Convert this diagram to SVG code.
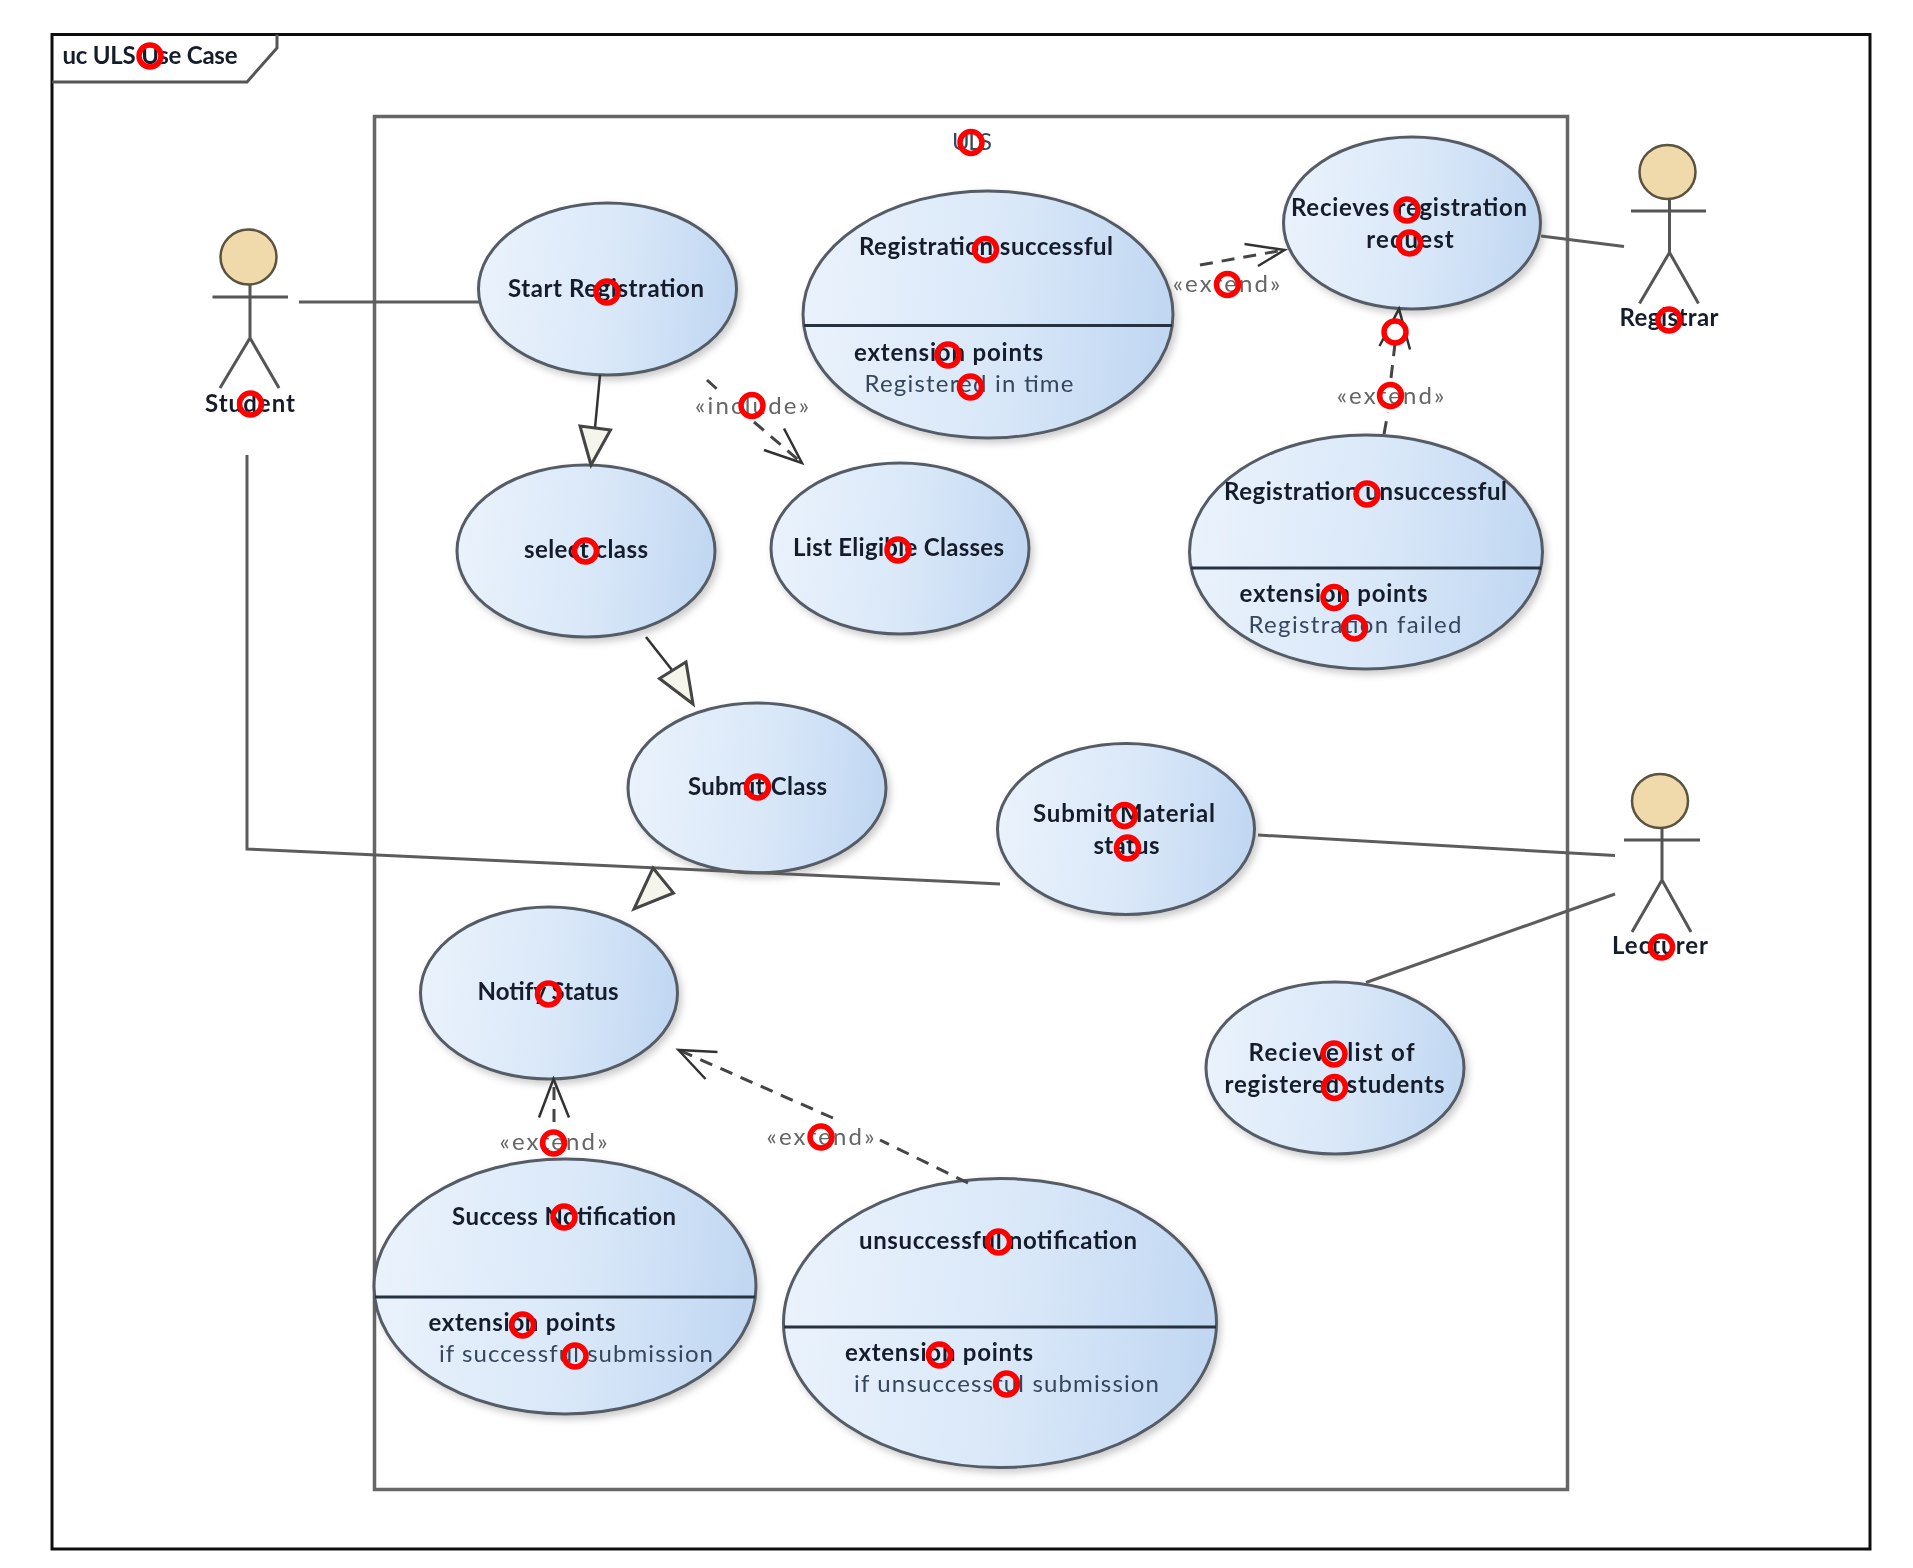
<svg xmlns="http://www.w3.org/2000/svg" width="1913" height="1568" viewBox="0 0 1913 1568">
<defs>
<linearGradient id="uc" x1="0" y1="0" x2="1" y2="0.08"><stop offset="0" stop-color="#ebf3fc"/><stop offset="0.6" stop-color="#d8e7f8"/><stop offset="1" stop-color="#c2d8f2"/></linearGradient>
<filter id="sh" x="-10%" y="-10%" width="125%" height="125%"><feDropShadow dx="3" dy="4" stdDeviation="3.500" flood-color="#000" flood-opacity="0.2"/></filter>
<filter id="soft" x="0" y="0" width="100%" height="100%" filterUnits="userSpaceOnUse"><feGaussianBlur stdDeviation="0.600"/></filter>
</defs>
<style>
text{font-family:Lato,"Liberation Sans",sans-serif;font-size:24px;text-anchor:middle;fill:#141c2b;font-weight:700}
.r{font-weight:400;fill:#36465c}
.s{font-weight:400;fill:#666}
.uc{fill:url(#uc);stroke:#555c66;stroke-width:3;filter:url(#sh)}
.div{stroke:#263040;stroke-width:3;fill:none}
.a{stroke:#555;stroke-width:3;fill:none}
.head{fill:#f0d9ab;stroke:#5a5340;stroke-width:2.500}
.c{stroke:#5c5c5c;stroke-width:3;fill:none}
.d{stroke:#444;stroke-width:3;fill:none;stroke-dasharray:13 9}
.o{stroke:#333;stroke-width:2.500;fill:none}
.t{fill:#f5f5ec;stroke:#444;stroke-width:3}
.m{fill:none;stroke:#f00;stroke-width:5.500}
</style>
<rect width="1913" height="1568" fill="#fff"/>
<g filter="url(#soft)">
<g id="frame">
<rect x="52" y="34.500" width="1818" height="1514.500" fill="#fff" stroke="#111" stroke-width="3"/>
<path d="M52 82H247L277 48V34.500" fill="none" stroke="#555" stroke-width="3"/>
<text x="150" y="64" textLength="175">uc ULS Use Case</text>
</g>
<g id="system">
<rect x="374.500" y="116.500" width="1193" height="1373" fill="#fff" stroke="#666" stroke-width="3.500"/>
<text class="r" x="972" y="150" textLength="40">ULS</text>
</g>
<g id="start-registration"><ellipse class="uc" cx="607.500" cy="289" rx="129" ry="86"/><text x="606" y="297" textLength="196">Start Registration</text></g>
<g id="select-class"><ellipse class="uc" cx="586" cy="551" rx="129" ry="86"/><text x="586" y="558" textLength="124">select class</text></g>
<g id="list-eligible"><ellipse class="uc" cx="900" cy="548.500" rx="129" ry="85.500"/><text x="898.500" y="556" textLength="211">List Eligible Classes</text></g>
<g id="submit-class"><ellipse class="uc" cx="757" cy="788" rx="129" ry="85"/><text x="757.500" y="795" textLength="139">Submit Class</text></g>
<g id="registration-successful"><ellipse class="uc" cx="988" cy="314.500" rx="185" ry="123.500"/><path class="div" d="M804 325.500H1172"/><text x="986" y="255" textLength="254">Registration successful</text><text x="948.500" y="361" textLength="189">extension points</text><text class="r" x="969" y="392" textLength="209">Registered in time</text></g>
<g id="recieves-registration"><ellipse class="uc" cx="1412" cy="223" rx="128.500" ry="86"/><text x="1409" y="216" textLength="236">Recieves registration</text><text x="1410" y="248" textLength="87.500">request</text></g>
<g id="registration-unsuccessful"><ellipse class="uc" cx="1366" cy="552" rx="176.500" ry="117"/><path class="div" d="M1191 568H1541"/><text x="1365.500" y="500" textLength="283">Registration unsuccessful</text><text x="1333.500" y="602" textLength="188">extension points</text><text class="r" x="1355" y="633" textLength="213">Registration failed</text></g>
<g id="submit-material"><ellipse class="uc" cx="1126" cy="829" rx="128.500" ry="85.500"/><text x="1124" y="822" textLength="182">Submit Material</text><text x="1126.500" y="854" textLength="66">status</text></g>
<g id="notify-status"><ellipse class="uc" cx="549" cy="993" rx="128.500" ry="86"/><text x="548" y="1000" textLength="141">Notify Status</text></g>
<g id="recieve-list"><ellipse class="uc" cx="1335" cy="1068" rx="129" ry="86"/><text x="1331.500" y="1061" textLength="166">Recieve list of</text><text x="1334.500" y="1093" textLength="220">registered students</text></g>
<g id="success-notification"><ellipse class="uc" cx="565" cy="1286.500" rx="191" ry="127.500"/><path class="div" d="M375 1297H755"/><text x="564" y="1225" textLength="224">Success Notification</text><text x="522" y="1331" textLength="187">extension points</text><text class="r" x="576" y="1362" textLength="274">if successful submission</text></g>
<g id="unsuccessful-notification"><ellipse class="uc" cx="1000" cy="1323" rx="216.500" ry="144.500"/><path class="div" d="M784 1327H1216"/><text x="998" y="1249" textLength="278">unsuccessful notification</text><text x="939" y="1361" textLength="188">extension points</text><text class="r" x="1006.500" y="1392" textLength="305">if unsuccessful submission</text></g>
<g id="student"><ellipse class="head" cx="248.500" cy="257" rx="28" ry="27.500"/><path class="a" d="M212.500 297H288M250 285V338M220 388L250 338L279 388"/><text x="250" y="412" textLength="90">Student</text></g>
<g id="registrar"><ellipse class="head" cx="1667.500" cy="172" rx="28" ry="27"/><path class="a" d="M1631 211H1706M1669.500 199V252.500M1639.500 303.500L1669.500 252.500L1698.500 303.500"/><text x="1669" y="326" textLength="99">Registrar</text></g>
<g id="lecturer"><ellipse class="head" cx="1660" cy="801" rx="28" ry="27"/><path class="a" d="M1624 840H1700M1662 828V880M1632 932L1662 880L1691 932"/><text x="1660" y="954" textLength="96">Lecturer</text></g>
<g id="connectors">
<path class="c" d="M299 302H479"/>
<path class="c" d="M247 455V849L960 882L1000 884"/>
<path class="c" d="M1541 236L1624 246.500"/>
<path class="c" d="M1258 835L1615 855.500"/>
<path class="c" d="M1366 982.500L1615 894"/>
<path class="o" d="M600 375L595 428"/><polygon class="t" points="591,465 580,426 610.500,430"/>
<path class="o" d="M646 637L672 670"/><polygon class="t" points="693,704 659.500,678.500 686,662"/>
<polygon class="t" points="653,868 673.500,893 634,909"/>
<path class="d" d="M707 380L718 390M754 422L802 463"/><path class="o" d="M764 450L802 463L784 428.500"/>
<text class="s" x="752" y="414" textLength="114">«include»</text>
<path class="d" d="M1200 265L1284 250"/><path class="o" d="M1244.500 244L1284.500 250L1258 266"/>
<text class="s" x="1226.500" y="292" textLength="107.500">«extend»</text>
<path class="d" d="M1384 434L1388 412M1391 378L1399 309"/><path class="o" d="M1379.500 346L1399 309L1410 349.500"/>
<text class="s" x="1390.500" y="404" textLength="107.500">«extend»</text>
<path class="d" d="M554 1122V1079"/><path class="o" d="M539 1117.500L553.500 1079L569 1117.500"/>
<text class="s" x="553.500" y="1150" textLength="108">«extend»</text>
<path class="d" d="M968 1183L880 1140M833 1118L678.500 1050"/><path class="o" d="M717.500 1052L678.500 1050L705.500 1079"/>
<text class="s" x="820.500" y="1145" textLength="108">«extend»</text>
</g>
</g>
<g id="red-markers">
<circle class="m" cx="150" cy="56" r="11"/><circle class="m" cx="971" cy="142.500" r="11"/><circle class="m" cx="607" cy="292" r="11"/><circle class="m" cx="250.500" cy="404" r="11"/><circle class="m" cx="585.500" cy="551" r="11"/><circle class="m" cx="752" cy="405.500" r="11"/><circle class="m" cx="898" cy="550" r="11"/><circle class="m" cx="757.500" cy="787" r="11"/><circle class="m" cx="985.500" cy="249.500" r="11"/><circle class="m" cx="948" cy="355" r="11"/><circle class="m" cx="970.500" cy="387" r="11"/><circle class="m" cx="1227.500" cy="284.500" r="11"/><circle class="m" cx="1407" cy="210" r="11"/><circle class="m" cx="1409.500" cy="243" r="11"/><circle class="m" cx="1395" cy="332" r="11" style="fill:#fff"/><circle class="m" cx="1669" cy="320" r="11"/><circle class="m" cx="1390.500" cy="395.500" r="11"/><circle class="m" cx="1367" cy="494" r="11"/><circle class="m" cx="1334" cy="597.500" r="11"/><circle class="m" cx="1354.500" cy="628" r="11"/><circle class="m" cx="1124.500" cy="815.500" r="11"/><circle class="m" cx="1127.500" cy="848" r="11"/><circle class="m" cx="1661.500" cy="947" r="11"/><circle class="m" cx="1334" cy="1054" r="11"/><circle class="m" cx="1334.500" cy="1087.500" r="11"/><circle class="m" cx="998.500" cy="1242" r="11"/><circle class="m" cx="939.500" cy="1355" r="11"/><circle class="m" cx="1006.500" cy="1384" r="11"/><circle class="m" cx="548.500" cy="994" r="11"/><circle class="m" cx="553.500" cy="1143" r="11"/><circle class="m" cx="821" cy="1137" r="11"/><circle class="m" cx="564" cy="1217" r="11"/><circle class="m" cx="522.500" cy="1325" r="11"/><circle class="m" cx="575" cy="1356" r="11"/>
</g>
</svg>
